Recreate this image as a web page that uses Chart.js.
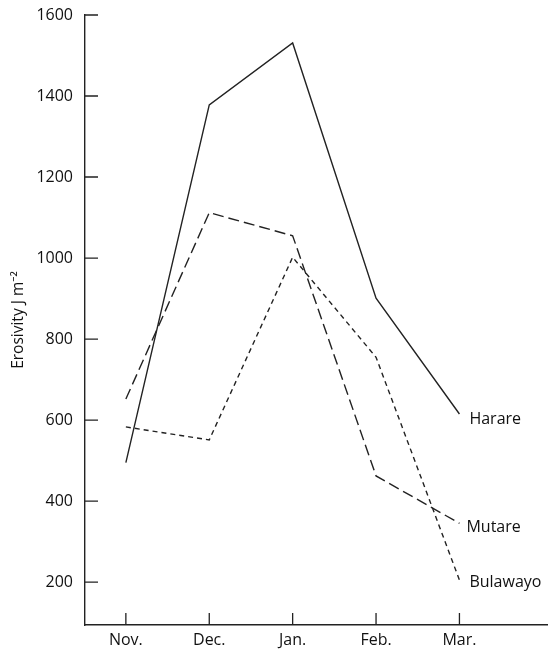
<!DOCTYPE html>
<html>
<head>
<meta charset="utf-8">
<script src="https://cdn.jsdelivr.net/npm/chart.js@4/dist/chart.umd.min.js"></script>
<style>
	html,body{margin:0;padding:0;background:#fff;}
	#wrap{width:560px;height:655px;}
</style>
</head>
<body>
<div id="wrap"><canvas id="erosivityChart"></canvas></div>
<script>
//월별 카테고리
var months = ['Nov.', 'Dec.', 'Jan.', 'Feb.', 'Mar.'];
//도시별 값
var harare = [495, 1378, 1531, 901, 615];
var mutare = [652, 1112, 1055, 462, 345];
var bulawayo = [583, 551, 1002, 755, 205];
//y축 눈금
var yTicks = [200, 400, 600, 800, 1000, 1200, 1400, 1600];

var fontName = "'Open Sans', 'Noto Sans', sans-serif";
var ink = '#222222';

//{x,y} 배열로 변환
function toPoints(values){
	var pts = new Array();
	for(var i=0;i<values.length;i++){
		pts.push({x:i, y:values[i]});
	}
	return pts;
}

//안쪽으로 향하는 눈금 + 선 끝 이름 그리기
var innerTicks = {
	id:'innerTicks',
	afterDraw:function(chart){
		var ctx = chart.ctx;
		var xs = chart.scales.x, ys = chart.scales.y;
		ctx.save();
		ctx.strokeStyle = ink;
		ctx.lineWidth = 1.3;
		ctx.beginPath();
		for(var i=0;i<yTicks.length;i++){
			var py = ys.getPixelForValue(yTicks[i]);
			ctx.moveTo(xs.left, py);
			ctx.lineTo(xs.left + 13, py);
		}
		for(var j=0;j<months.length;j++){
			var px = xs.getPixelForValue(j);
			ctx.moveTo(px, ys.bottom);
			ctx.lineTo(px, ys.bottom - 12);
		}
		ctx.stroke();
		//선 이름
		ctx.fillStyle = '#111';
		ctx.font = '16px ' + fontName;
		ctx.textBaseline = 'middle';
		var offs = [[10,5],[7,4],[10,2]];
		chart.data.datasets.forEach(function(ds, k){
			var meta = chart.getDatasetMeta(k);
			var last = meta.data[meta.data.length-1];
			ctx.fillText(ds.label, last.x + offs[k][0], last.y + offs[k][1]);
		});
		ctx.restore();
	}
};

new Chart(document.getElementById('erosivityChart'),{
	type:'line',
	data:{
		datasets:[
			{label:'Harare', data:toPoints(harare), borderColor:ink, borderWidth:1.4, pointRadius:0, tension:0},
			{label:'Mutare', data:toPoints(mutare), borderColor:ink, borderWidth:1.4, borderDash:[11,5], pointRadius:0, tension:0},
			{label:'Bulawayo', data:toPoints(bulawayo), borderColor:ink, borderWidth:1.4, borderDash:[5,4], pointRadius:0, tension:0}
		]
	},
	options:{
		responsive:true,
		maintainAspectRatio:false,
		animation:false,
		layout:{padding:{top:15, right:13, left:0, bottom:0}},
		plugins:{
			legend:{display:false},
			tooltip:{enabled:false}
		},
		scales:{
			x:{
				type:'linear',
				min:-0.49,
				max:5.05,
				grid:{display:false, drawTicks:false},
				border:{display:true, color:ink, width:1.4},
				afterBuildTicks:function(axis){
					axis.ticks = months.map(function(m,i){return {value:i};});
				},
				afterFit:function(axis){ axis.height = 30; axis.paddingLeft = 0; axis.paddingRight = 0; },
				ticks:{
					padding:6,
					color:'#111',
					font:{family:fontName, size:16},
					callback:function(v){ return months[v]; }
				}
			},
			y:{
				min:94,
				max:1600,
				grid:{display:false, drawTicks:false},
				border:{display:true, color:ink, width:1.4},
				afterBuildTicks:function(axis){
					axis.ticks = yTicks.map(function(v){return {value:v};});
				},
				afterFit:function(axis){ axis.width = 85; axis.paddingTop = 0; axis.paddingBottom = 0; },
				ticks:{
					padding:12,
					color:'#111',
					font:{family:fontName, size:16},
					callback:function(v){ return String(v); }
				},
				title:{
					display:true,
					text:'Erosivity J m\u207B\u00B2',
					color:'#111',
					font:{family:fontName, size:15.5},
					padding:{top:9, bottom:0}
				}
			}
		}
	},
	plugins:[innerTicks]
});
</script>
</body>
</html>
